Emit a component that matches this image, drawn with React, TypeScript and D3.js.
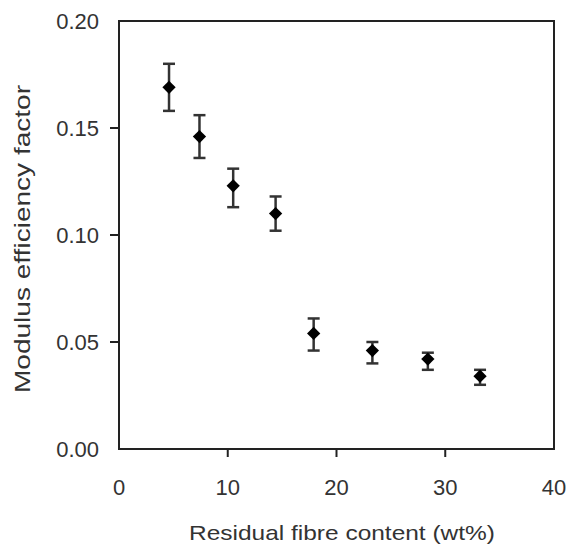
import React from 'react';
import * as d3 from 'd3';

// residual fibre content (wt%) and modulus efficiency factor with error bounds
const fibre = [4.6, 7.4, 10.5, 14.4, 17.9, 23.3, 28.4, 33.2];
const efficiency = [0.169, 0.146, 0.123, 0.110, 0.054, 0.046, 0.042, 0.034];
const errUpper = [0.180, 0.156, 0.131, 0.118, 0.061, 0.050, 0.045, 0.037];
const errLower = [0.158, 0.136, 0.113, 0.102, 0.046, 0.040, 0.037, 0.030];

const xTicks = [0, 10, 20, 30, 40];
const yTicks = [0, 0.05, 0.1, 0.15, 0.2];

const W = 568;
const H = 547;
const font = '"Liberation Sans", Arial, sans-serif';

export default function App() {
  const x = d3.scaleLinear().domain([0, 40]).range([119, 554]);
  const y = d3.scaleLinear().domain([0, 0.2]).range([449, 21]);
  const diamond = d3.symbol(d3.symbolSquare, 88)();

  return (
    <svg width={W} height={H} style={{ position: 'absolute', left: 0, top: 0, background: '#fff' }}>
      {/* frame */}
      <rect x={x(0)} y={y(0.2)} width={x(40) - x(0)} height={y(0) - y(0.2)}
        fill="none" stroke="#222" strokeWidth={2} />

      {/* x axis ticks + labels */}
      {xTicks.map(t => (
        <g key={'x' + t}>
          {t > 0 && t < 40 && (
            <line x1={x(t)} x2={x(t)} y1={y(0)} y2={y(0) + 8} stroke="#222" strokeWidth={2} />
          )}
          <text x={x(t)} y={495} textAnchor="middle" fontFamily={font} fontSize={22} fill="#333">
            {t}
          </text>
        </g>
      ))}

      {/* y axis ticks + labels */}
      {yTicks.map(t => (
        <g key={'y' + t}>
          {t > 0 && t < 0.2 && (
            <line x1={x(0) - 9} x2={x(0)} y1={y(t)} y2={y(t)} stroke="#222" strokeWidth={2} />
          )}
          <text x={99} y={y(t)} dy="0.36em" textAnchor="end" fontFamily={font} fontSize={22} fill="#333">
            {d3.format('.2f')(t)}
          </text>
        </g>
      ))}

      {/* error bars */}
      {fibre.map((f, i) => (
        <g key={'e' + i} stroke="#333" strokeWidth={2.5}>
          <line x1={x(f)} x2={x(f)} y1={y(errUpper[i])} y2={y(errLower[i])} />
          <line x1={x(f) - 6} x2={x(f) + 6} y1={y(errUpper[i])} y2={y(errUpper[i])} />
          <line x1={x(f) - 6} x2={x(f) + 6} y1={y(errLower[i])} y2={y(errLower[i])} />
        </g>
      ))}

      {/* markers */}
      {fibre.map((f, i) => (
        <path key={'m' + i} d={diamond || ''} fill="#000"
          transform={`translate(${x(f)},${y(efficiency[i])}) rotate(45)`} />
      ))}

      {/* axis titles */}
      <text x={342} y={540} textAnchor="middle" fontFamily={font} fontSize={21} fill="#333"
        textLength={306} lengthAdjust="spacingAndGlyphs">
        Residual fibre content (wt%)
      </text>
      <text transform="translate(30,239) rotate(-90)" textAnchor="middle" fontFamily={font}
        fontSize={22} fill="#333" textLength={308} lengthAdjust="spacingAndGlyphs">
        Modulus efficiency factor
      </text>
    </svg>
  );
}
